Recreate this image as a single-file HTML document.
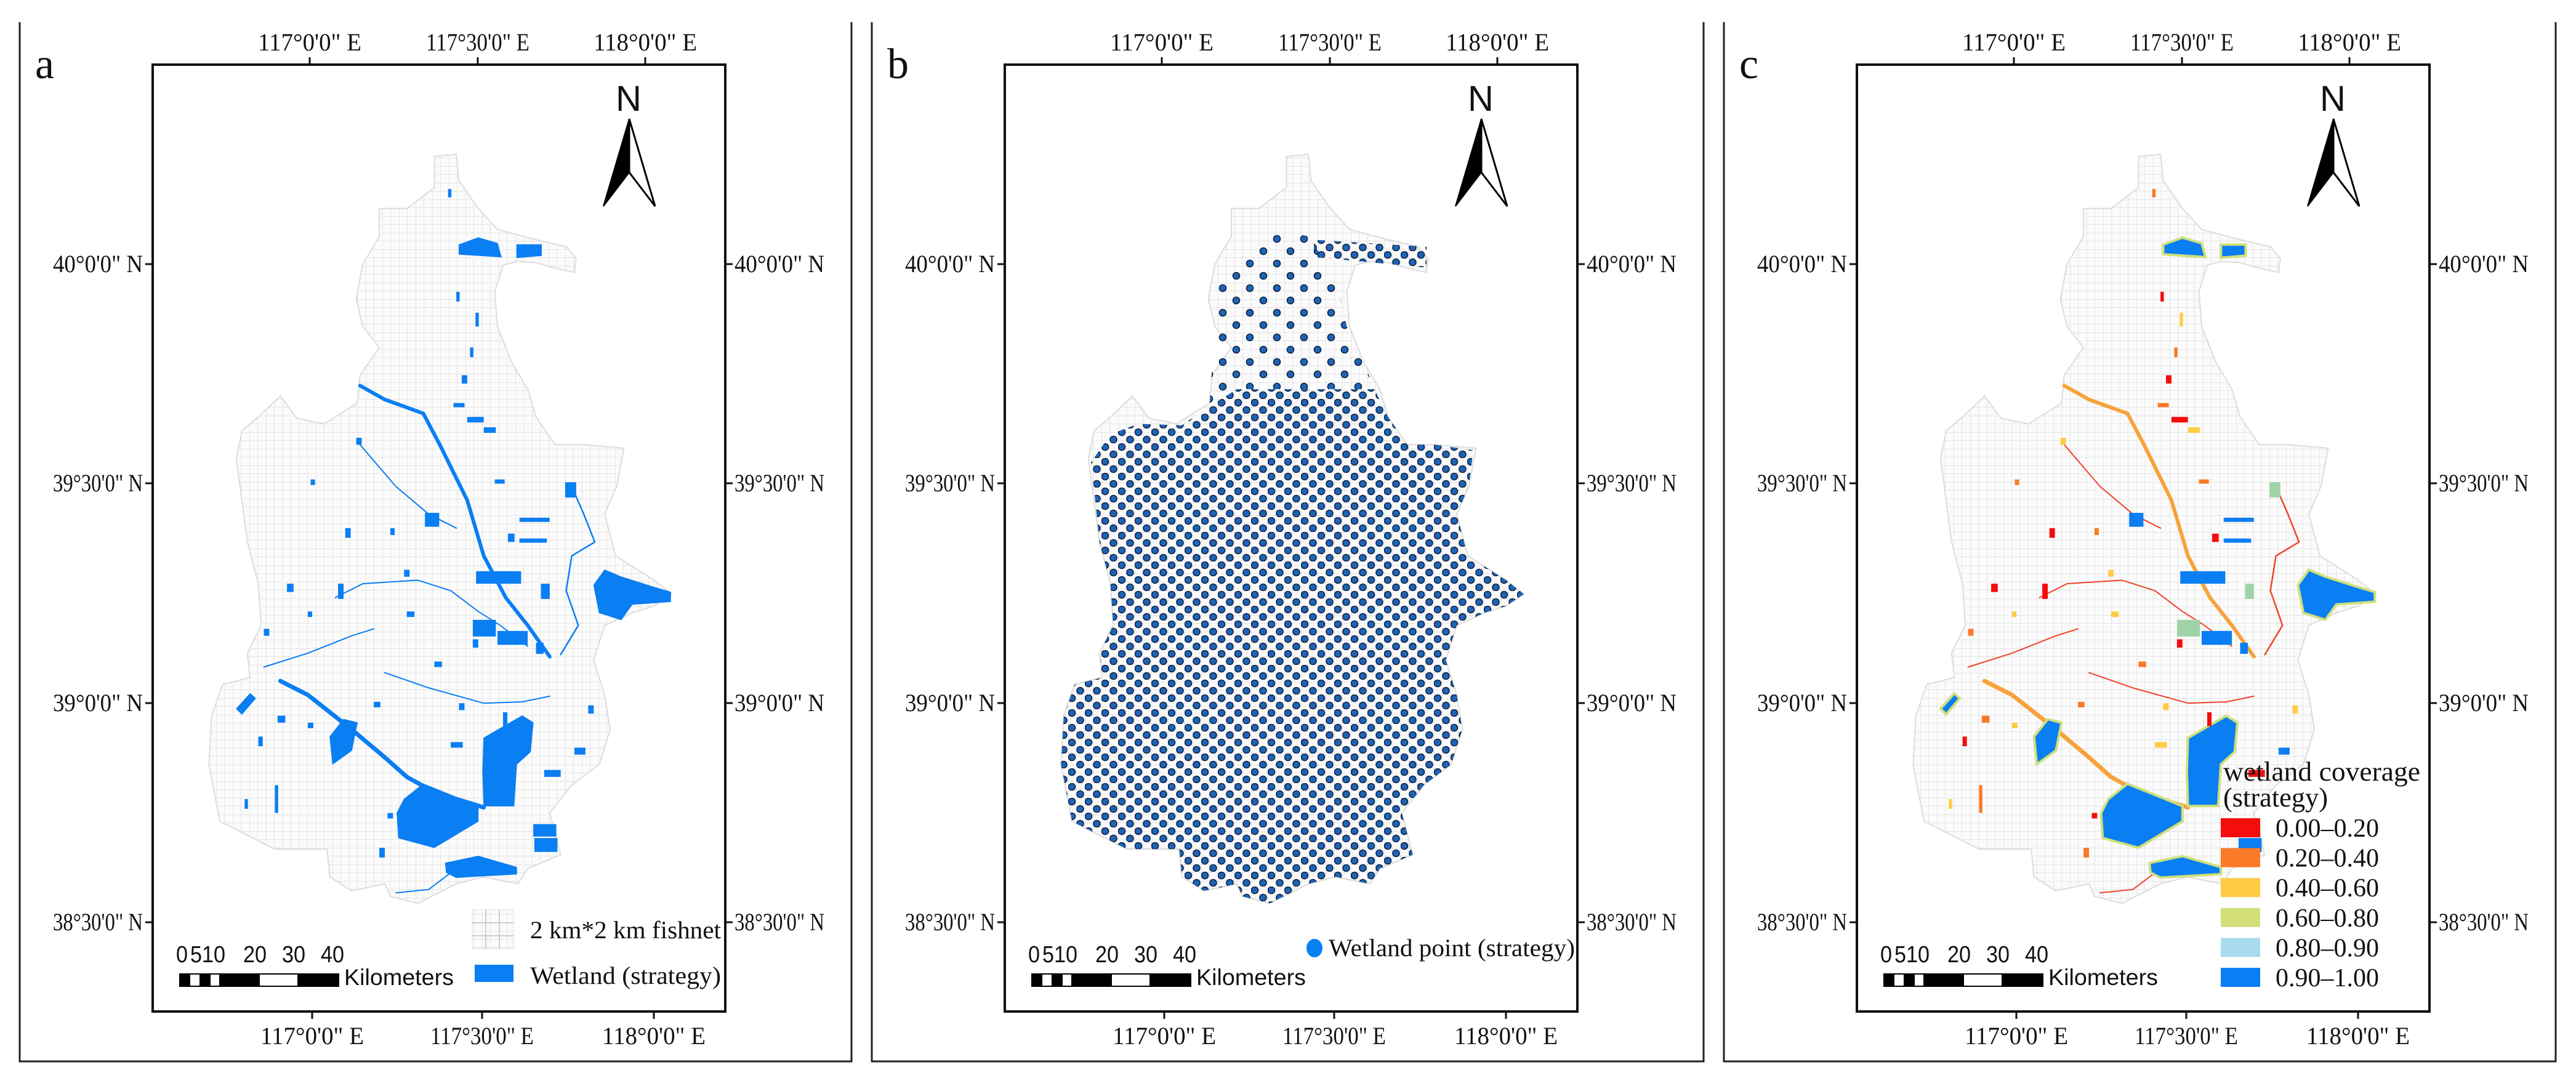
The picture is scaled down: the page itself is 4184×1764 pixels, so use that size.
<!DOCTYPE html>
<html><head><meta charset="utf-8"><style>
html,body{margin:0;padding:0;background:#fff;}
svg{display:block;}
text{font-family:"Liberation Serif",serif;fill:#111;}
.sans{font-family:"Liberation Sans",sans-serif;}
</style></head><body>
<svg id="fig" width="4184" height="1764" viewBox="0 0 4184 1764" xmlns="http://www.w3.org/2000/svg">
<defs>
<pattern id="fishnet" x="0" y="0" width="13.5" height="13.5" patternUnits="userSpaceOnUse">
<rect width="13.5" height="13.5" fill="#fbfbfb"/>
<path d="M0 0H13.5M0 0V13.5" stroke="#cfcfcf" stroke-width="1"/>
</pattern>
<pattern id="dots" x="0" y="0" width="27" height="24" patternUnits="userSpaceOnUse">
<circle cx="6" cy="6" r="5.5" fill="#1f64b4" stroke="#0b2346" stroke-width="1.6"/>
<circle cx="19.5" cy="18" r="5.5" fill="#1f64b4" stroke="#0b2346" stroke-width="1.6"/>
</pattern>
<pattern id="dotsSparse" x="0" y="0" width="44" height="40" patternUnits="userSpaceOnUse">
<circle cx="8" cy="8" r="5.5" fill="#1f64b4" stroke="#0b2346" stroke-width="1.6"/>
<circle cx="30" cy="28" r="5.5" fill="#1f64b4" stroke="#0b2346" stroke-width="1.6"/>
</pattern>
</defs>
</svg>
<script>
// ---------- map geometry data (reference coordinates) ----------
const outline=[[790,225],[830,222],[835,260],[870,300],[905,330],[975,345],[1030,355],[1048,372],[1045,392],[1010,386],[975,378],[940,376],[915,382],[900,420],[905,470],[930,520],[960,560],[975,600],[1010,640],[1060,640],[1135,645],[1122,700],[1100,740],[1120,800],[1190,835],[1222,855],[1190,872],[1150,882],[1100,900],[1080,950],[1100,1000],[1110,1050],[1090,1100],[1040,1130],[1000,1170],[1020,1230],[960,1250],[942,1272],[880,1262],[830,1272],[760,1300],[710,1290],[700,1272],[640,1282],[600,1262],[595,1222],[500,1222],[400,1182],[380,1100],[385,1030],[405,985],[455,975],[450,940],[475,900],[470,840],[450,780],[430,660],[440,620],[470,600],[510,570],[540,602],[590,610],[650,580],[655,540],[690,500],[660,470],[648,430],[660,380],[690,340],[690,300],[740,300],[790,270]];
const dotMain=[[520,610],[600,612],[650,585],[700,560],[950,560],[975,600],[1010,640],[1060,640],[1130,648],[1122,700],[1100,740],[1120,800],[1190,835],[1222,855],[1190,872],[1150,882],[1100,900],[1080,950],[1100,1000],[1110,1050],[1090,1100],[1040,1130],[1000,1170],[1020,1230],[960,1250],[942,1272],[880,1262],[830,1272],[760,1300],[710,1290],[700,1272],[640,1282],[600,1262],[595,1222],[500,1222],[400,1182],[380,1100],[385,1030],[405,985],[455,975],[450,940],[475,900],[470,840],[450,780],[435,665],[470,625]];
const dotNorth=[[660,400],[700,380],[760,330],[830,340],[880,400],[900,470],[930,520],[950,560],[700,560],[650,585],[660,470]];
const dotReservoir=[[840,345],[1045,355],[1045,385],[840,370]];
const lakes=[
[[735,1150],[770,1128],[870,1160],[870,1182],[790,1220],[725,1206],[722,1170]],
[[880,1062],[950,1030],[970,1040],[965,1082],[940,1100],[935,1160],[880,1160],[878,1110]],
[[835,352],[870,342],[905,350],[912,370],[835,366]],
[[940,352],[985,352],[985,368],[940,371]],
[[1080,842],[1100,820],[1130,830],[1190,845],[1220,852],[1220,866],[1150,870],[1130,892],[1090,882]],
[[810,1242],[870,1232],[940,1248],[940,1258],[830,1263],[812,1256]],
[[600,1060],[625,1035],[650,1040],[640,1080],[605,1100]],
[[430,1020],[455,998],[465,1005],[440,1028]]
];
const blocks=[[970,1186,42,18],[972,1206,42,20],[866,822,82,18],[860,892,42,24],[905,908,55,20],[975,925,14,16],[984,840,16,22],[945,745,55,6],[945,775,50,6],[1028,694,20,22],[773,738,26,20],[1045,1076,20,10],[990,1108,30,10],[505,1030,14,10],[820,1068,22,8],[924,768,12,12],[815,272,6,12],[648,630,10,10],[522,840,12,12],[710,760,8,10],[735,820,10,10],[615,840,10,22],[480,905,10,10],[740,880,14,8],[860,920,10,12],[790,952,14,8],[835,1012,10,10],[915,1025,8,20],[680,1010,12,8],[560,1040,10,8],[470,1060,8,14],[500,1130,6,40],[445,1150,6,14],[850,600,30,8],[825,580,20,6],[880,615,22,8],[840,540,10,12],[855,500,6,14],[865,450,6,20],[830,420,6,14],[900,690,18,6],[560,880,8,8],[628,760,10,14],[565,690,8,8],[1070,1015,10,12],[705,1170,10,8],[690,1220,10,14]];
const rivers=[
{w:6,p:[[655,555],[700,575],[770,595],[800,640],[850,720],[880,800],[920,860],[960,900],[1000,945]]},
{w:7,p:[[510,980],[560,1000],[640,1050],[700,1090],[740,1118],[790,1140],[880,1162]]},
{w:2,p:[[610,860],[660,840],[760,835],[820,850],[870,880],[910,900],[960,930]]},
{w:2,p:[[480,960],[560,940],[640,915],[680,905]]},
{w:2,p:[[700,968],[780,990],[880,1012],[950,1010],[1000,1002]]},
{w:2.5,p:[[1040,700],[1062,740],[1082,780],[1040,800],[1030,850],[1052,900],[1020,942]]},
{w:2,p:[[655,640],[720,700],[780,740],[830,760]]},
{w:2,p:[[830,1250],[780,1280],[720,1285]]}
];
const sx=1/1.12, sy=1/0.886;
const panelOffsets=[0,1384,2768];
const eLabels=["117°0'0\" E","117°30'0\" E","118°0'0\" E"];
const nLabels=["40°0'0\" N","39°30'0\" N","39°0'0\" N","38°30'0\" N"];
const topTickX=[503,776,1048], botTickX=[507,783,1062];
const nTickY=[429,785,1142,1498];
const covLabels=["0.00–0.20","0.20–0.40","0.40–0.60","0.60–0.80","0.80–0.90","0.90–1.00"];
const covColors=["#f50d0d","#fb7a27","#ffcb45","#d3e07a","#a9dbee","#0a7ef3"];

const NS="http://www.w3.org/2000/svg";
const svg=document.getElementById('fig');
function el(tag,attrs,parent){const e=document.createElementNS(NS,tag);for(const k in attrs)e.setAttribute(k,attrs[k]);(parent||svg).appendChild(e);return e;}
function pts(a){return a.map(p=>(p[0]*sx).toFixed(1)+','+(p[1]*sy).toFixed(1)).join(' ');}
function txt(s,attrs,parent){const t=el('text',attrs,parent);t.textContent=s;return t;}

panelOffsets.forEach((off,pi)=>{
  const g=el('g',{transform:'translate('+off+',0)'});
  
  
  const ob=el('path',{d:'M32 36V1724H1383V36',fill:'none',stroke:'#222','stroke-width':3},g);
  
  
  const pl=txt('abc'[pi],{x:57,y:127,'font-size':70},g);
  
  
  const fr=el('rect',{x:248,y:105,width:930,height:1538,fill:'#fff',stroke:'#111','stroke-width':4},g);
  
  
  eLabels.forEach((s,i)=>{
    el('line',{x1:topTickX[i],y1:93,x2:topTickX[i],y2:105,stroke:'#111','stroke-width':3},g);
    const t=txt(s,{x:topTickX[i],y:82,'font-size':40,'text-anchor':'middle',textLength:s.length>11?188:168,lengthAdjust:'spacingAndGlyphs'},g);
    
    
    el('line',{x1:botTickX[i],y1:1643,x2:botTickX[i],y2:1655,stroke:'#111','stroke-width':3},g);
    const b=txt(s,{x:botTickX[i],y:1696,'font-size':40,'text-anchor':'middle',textLength:s.length>11?188:168,lengthAdjust:'spacingAndGlyphs'},g);
    
    
  });
  nLabels.forEach((s,i)=>{
    const y=nTickY[i];
    el('line',{x1:236,y1:y,x2:248,y2:y,stroke:'#111','stroke-width':3},g);
    el('line',{x1:1178,y1:y,x2:1190,y2:y,stroke:'#111','stroke-width':3},g);
    const w=s.length>10?168:146;
    const l=txt(s,{x:232,y:y+13,'font-size':40,'text-anchor':'end',textLength:w,lengthAdjust:'spacingAndGlyphs'},g);
    
    
    const r=txt(s,{x:1193,y:y+13,'font-size':40,textLength:w,lengthAdjust:'spacingAndGlyphs'},g);
    
    
  });
  const fish=el('polygon',{points:pts(outline),fill:'url(#fishnet)',stroke:'#dcdcdc','stroke-width':2},g);
  
  
  if(pi===1){
    const dg=el('g',{},g);
    
    
    el('polygon',{points:pts(dotMain),fill:'url(#dots)'},dg);
    el('polygon',{points:pts(dotNorth),fill:'url(#dotsSparse)'},dg);
    el('polygon',{points:pts(dotReservoir),fill:'url(#dots)'},dg);
  } else {
    const wg=el('g',{},g);
    
    
    const blue='#0a7ef3';
    rivers.forEach((r,i)=>{
      const col=pi===0?blue:(r.w>4?'#f7a23a':'#f2412a');
      const pl2=el('polyline',{points:pts(r.p),fill:'none',stroke:col,'stroke-width':r.w,'stroke-linejoin':'round','stroke-linecap':'round'},wg);
      
      
    });
    lakes.forEach(l=>{
      const p=el('polygon',{points:pts(l),fill:blue,stroke:pi===0?blue:'#cfe07a','stroke-width':pi===0?1:4},wg);
      
      
    });
    blocks.forEach((b,i)=>{
      let col=blue;
      if(pi===2){col=i<12?(i%3===0?'#9fd4a8':blue):covColors[i%3];}
      const r=el('rect',{x:(b[0]*sx).toFixed(1),y:(b[1]*sy).toFixed(1),width:(b[2]*sx).toFixed(1),height:(b[3]*sy).toFixed(1),fill:col},wg);
      
      
    });
  }
  const na=el('g',{},g);
  
  
  txt('N',{x:1021,y:180,'font-size':58,'text-anchor':'middle',class:'sans'},na);
  el('polygon',{points:'1022,193 980,335 1022,280',fill:'#000',stroke:'#000','stroke-width':2},na);
  el('polygon',{points:'1022,193 1022,280 1064,335',fill:'#fff',stroke:'#000','stroke-width':3},na);
  const sb=el('g',{},g);
  
  
  const bx=292, segs=[0,16,33,49,65,129,192,258];
  for(let i=0;i<segs.length-1;i++){
    el('rect',{x:bx+segs[i],y:1582,width:segs[i+1]-segs[i],height:20,fill:i%2===0?'#000':'#fff',stroke:'#000','stroke-width':2},sb);
  }
  const nums=[['0',0],['510',23],['20',109],['30',172],['40',235]];
  nums.forEach(n=>txt(n[0],{x:bx+n[1]-6,y:1563,'font-size':38,class:'sans',textLength:n[0].length*19,lengthAdjust:'spacingAndGlyphs'},sb));
  txt('Kilometers',{x:bx+267,y:1600,'font-size':37,class:'sans',textLength:178,lengthAdjust:'spacingAndGlyphs'},sb);
  if(pi===0){
    const lg=el('g',{},g);
    
    
    el('rect',{x:767,y:1478,width:67,height:63,fill:'url(#fishnet)',stroke:'#ddd'},lg);
    el('path',{d:'M767 1499H834M767 1520H834M789 1478V1541M811 1478V1541',stroke:'#ccc','stroke-width':2},lg);
    txt('2 km*2 km fishnet',{x:861,y:1524,'font-size':40,textLength:310,lengthAdjust:'spacingAndGlyphs'},lg);
    el('rect',{x:771,y:1567,width:63,height:28,fill:'#0a7ef3'},lg);
    txt('Wetland (strategy)',{x:861,y:1598,'font-size':40,textLength:310,lengthAdjust:'spacingAndGlyphs'},lg);
  } else if(pi===1){
    const lg=el('g',{},g);
    
    
    el('ellipse',{cx:751,cy:1540,rx:13,ry:15,fill:'#0a7ef3'},lg);
    txt('Wetland point (strategy)',{x:774,y:1553,'font-size':40,textLength:400,lengthAdjust:'spacingAndGlyphs'},lg);
  } else {
    const lg=el('g',{},g);
    
    
    txt('wetland coverage',{x:843,y:1268,'font-size':44,textLength:320,lengthAdjust:'spacingAndGlyphs'},lg);
    txt('(strategy)',{x:843,y:1310,'font-size':44,textLength:170,lengthAdjust:'spacingAndGlyphs'},lg);
    covLabels.forEach((s,i)=>{
      const y=1329+i*48.6;
      el('rect',{x:839,y:y,width:64,height:31,fill:covColors[i]},lg);
      txt(s,{x:928,y:y+30,'font-size':42,textLength:168,lengthAdjust:'spacingAndGlyphs'},lg);
    });
  }
});
</script>
</body></html>
